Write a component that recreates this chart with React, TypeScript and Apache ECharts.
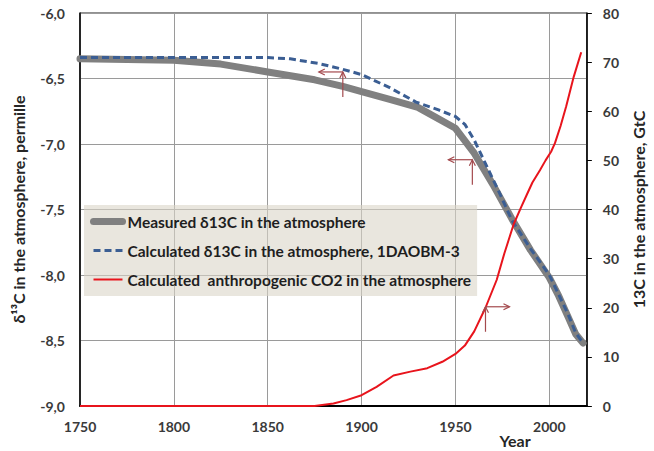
import React, { useEffect, useRef } from "react";
import * as echarts from "echarts";

// Measured atmospheric δ13C (permille)
const measuredYears = [1750, 1800, 1825, 1850, 1875, 1890, 1900, 1915, 1930, 1950, 1960, 1970, 1980, 1990, 2000, 2005, 2010, 2014, 2018];
const measuredD13C = [-6.35, -6.36, -6.39, -6.45, -6.51, -6.56, -6.6, -6.66, -6.72, -6.88, -7.07, -7.31, -7.57, -7.81, -8.02, -8.16, -8.32, -8.45, -8.52];

// δ13C calculated with the 1DAOBM-3 model (permille)
const calcYears = [1750, 1800, 1850, 1862, 1877, 1890, 1900, 1915, 1929, 1941, 1950, 1955, 1960, 1967, 1973, 1980, 1990, 2000, 2005, 2010, 2014, 2018];
const calcD13C = [-6.34, -6.34, -6.34, -6.35, -6.385, -6.43, -6.47, -6.57, -6.68, -6.74, -6.79, -6.85, -6.97, -7.18, -7.36, -7.58, -7.8, -8.0, -8.15, -8.3, -8.44, -8.52];

// Calculated anthropogenic CO2 in the atmosphere (GtC, right axis)
const co2Years = [1750, 1800, 1850, 1875, 1885, 1892, 1900, 1908, 1917, 1926, 1935, 1943, 1950, 1955, 1960, 1966, 1972, 1976, 1981, 1985, 1988, 1991, 1995, 1998, 2001, 2003, 2006, 2009, 2013, 2017];
const co2GtC = [0, 0, 0, 0, 0.5, 1.2, 2.2, 3.9, 6.2, 7.0, 7.7, 9.0, 10.6, 12.3, 15.2, 20.0, 25.7, 31, 37, 40.5, 43, 45.5, 48, 50, 51.8, 53.5, 57, 61, 67, 72];

// Axis pointer arrows: anchor (year, value), the y axis they refer to
const arrowYears = [1890, 1959, 1966];
const arrowValues = [-6.45, -7.12, 20.2];
const arrowAxis = [0, 0, 1];

const seriesNames = [
  "Measured δ13C in the atmosphere",
  "Calculated δ13C in the atmosphere, 1DAOBM-3",
  "Calculated  anthropogenic CO2 in the atmosphere",
];

const FONT = "Lato, 'Noto Sans', sans-serif";
const pairs = (xs: number[], ys: number[]) => xs.map((x, i) => [x, ys[i]]);

export default function App() {
  const ref = useRef<HTMLDivElement>(null);

  useEffect(() => {
    document.body.style.margin = "0";
    const chart = echarts.init(ref.current!, null, { renderer: "svg" });

    const labelStyle = { fontFamily: FONT, fontWeight: "bold" as const, fontSize: 14, color: "#3a3a3a" };
    const nameStyle = { fontFamily: FONT, fontWeight: "bold" as const, fontSize: 16, color: "#262626" };
    const hideSymbol = { opacity: 0, borderWidth: 0 };

    chart.setOption({
      animation: false,
      grid: { left: 80, right: 57, top: 13, bottom: 45, show: true, borderColor: "#222", borderWidth: 1 },
      legend: {
        orient: "vertical",
        left: 84,
        top: 205,
        padding: [8.5, 6, 8.5, 6],
        itemGap: 13,
        itemWidth: 29,
        itemHeight: 17,
        backgroundColor: "rgba(218,214,200,0.6)",
        textStyle: { fontFamily: FONT, fontWeight: "bold", fontSize: 15.5, color: "#1e1e1e" },
        selectedMode: false,
        data: [
          { name: seriesNames[0], lineStyle: { width: 7, cap: "round" }, itemStyle: hideSymbol },
          { name: seriesNames[1], lineStyle: { width: 3 }, itemStyle: hideSymbol },
          { name: seriesNames[2], lineStyle: { width: 2 }, itemStyle: hideSymbol },
        ],
      },
      xAxis: {
        type: "value",
        min: 1750,
        max: 2020,
        interval: 50,
        axisLine: { lineStyle: { color: "#000", width: 2 } },
        axisTick: { show: false },
        axisLabel: { ...labelStyle, margin: 13, showMaxLabel: false, formatter: (v: number) => String(v) },
        splitLine: { lineStyle: { color: "#9a9a9a", width: 1 } },
      },
      yAxis: [
        {
          type: "value",
          min: -9,
          max: -6,
          interval: 0.5,
          name: "δ¹³C in the atmosphere, permille",
          nameLocation: "middle",
          nameRotate: 90,
          nameGap: 54,
          nameTextStyle: nameStyle,
          axisLine: { show: true, lineStyle: { color: "#000", width: 1.5 } },
          axisTick: { show: false },
          axisLabel: { ...labelStyle, margin: 15, formatter: (v: number) => v.toFixed(1).replace(".", ",") },
          splitLine: { lineStyle: { color: "#9a9a9a", width: 1 } },
        },
        {
          type: "value",
          min: 0,
          max: 80,
          interval: 10,
          position: "right",
          name: "13C in the atmosphere, GtC",
          nameLocation: "middle",
          nameRotate: 90,
          nameGap: 36,
          nameTextStyle: nameStyle,
          axisLine: { show: true, lineStyle: { color: "#000", width: 1.5 } },
          axisTick: { show: true, length: 5, lineStyle: { color: "#000" } },
          axisLabel: { ...labelStyle, margin: 16 },
          splitLine: { show: false },
        },
      ],
      series: [
        {
          name: seriesNames[0],
          type: "line",
          yAxisIndex: 0,
          data: pairs(measuredYears, measuredD13C),
          symbol: "none",
          color: "#808080",
          lineStyle: { color: "#808080", width: 7, cap: "round", join: "round" },
          z: 2,
        },
        {
          name: seriesNames[1],
          type: "line",
          yAxisIndex: 0,
          data: pairs(calcYears, calcD13C),
          symbol: "none",
          color: "#3b5e93",
          lineStyle: { color: "#3b5e93", width: 3, type: [7, 4] },
          z: 3,
        },
        {
          name: seriesNames[2],
          type: "line",
          yAxisIndex: 1,
          data: pairs(co2Years, co2GtC),
          symbol: "none",
          color: "#e8141c",
          lineStyle: { color: "#e8141c", width: 2 },
          z: 4,
        },
      ],
    });

    // Small arrows telling which axis a curve is read against
    const arrowColor = "#a44a4e";
    const graphics: any[] = [];
    arrowYears.forEach((yr, i) => {
      const [px, py] = chart.convertToPixel({ xAxisIndex: 0, yAxisIndex: arrowAxis[i] }, [yr, arrowValues[i]]) as number[];
      const dir = arrowAxis[i] === 0 ? -1 : 1;
      const hx = px + dir * 24;
      const line = (pts: number[][]) => ({
        type: "polyline",
        silent: true,
        z: 10,
        shape: { points: pts },
        style: { stroke: arrowColor, lineWidth: 1.2, fill: "none" },
      });
      graphics.push(line([[px, py], [px, py + 25]]));
      graphics.push(line([[px - 3, py + 6], [px, py], [px + 3, py + 6]]));
      graphics.push(line([[px, py], [hx, py]]));
      graphics.push(line([[hx - dir * 6, py - 3], [hx, py], [hx - dir * 6, py + 3]]));
    });
    graphics.push({
      type: "text",
      silent: true,
      x: 515,
      y: 440,
      style: { text: "Year", fontFamily: FONT, fontWeight: "bold", fontSize: 16, fill: "#262626", align: "center", verticalAlign: "middle" },
    });
    chart.setOption({ graphic: graphics });

    return () => chart.dispose();
  }, []);

  return <div ref={ref} style={{ width: 654, height: 451 }} />;
}
